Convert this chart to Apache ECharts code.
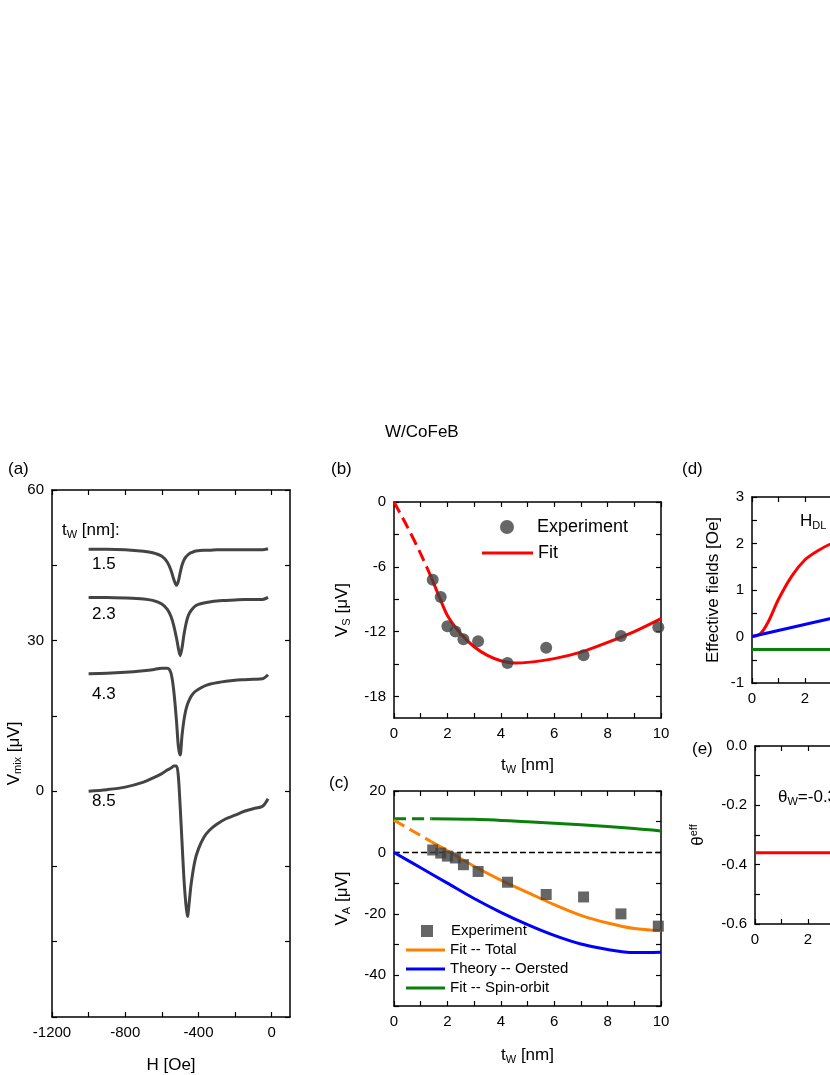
<!DOCTYPE html>
<html>
<head>
<meta charset="utf-8">
<script src="https://cdn.jsdelivr.net/npm/echarts@6/dist/echarts.min.js"></script>
<style>html,body{margin:0;background:#fff;overflow:hidden}#c{width:1100px;height:1075px}</style>
</head>
<body>
<div id="c"></div>
<script>
// (a) spectra
var H = [-1000,-900,-800,-700,-650,-600,-570,-550,-535,-520,-510,-500,-490,-480,-470,-460,-450,-440,-420,-400,-370,-340,-300,-250,-200,-150,-100,-50,-20];
var v15 = [48.2,48.2,48.1,47.8,47.5,46.8,45.6,44,42.2,41,41.8,43.5,45,46,46.6,47,47.3,47.5,47.8,47.9,48,48,48.1,48.1,48.1,48.1,48.1,48.1,48.3];
var v23 = [38.6,38.6,38.5,38.3,38,37.3,36.2,34.8,33,30.5,28.5,27,28.5,31,33,34.5,35.4,36,36.8,37.2,37.5,37.7,37.9,38,38.1,38.2,38.2,38.2,38.6];
var v43 = [23.4,23.5,23.7,24,24.2,24.5,24.5,23.5,20,14,9,7.2,11,14,16,17.3,18.2,18.9,19.8,20.3,20.9,21.3,21.6,21.9,22.1,22.2,22.3,22.4,23.2];
var v85 = [0,0.3,0.8,1.8,2.6,3.5,4.2,4.6,5,5,3,-3,-10,-17,-22,-25,-22,-18.5,-14,-11.5,-9.2,-7.8,-6.6,-5.5,-4.8,-4,-3.5,-3,-1.5];
// (b) symmetric voltage
var expT = [1.45,1.75,2.0,2.3,2.6,3.15,4.25,5.7,7.1,8.5,9.9];
var expVS = [-7.2,-8.8,-11.5,-12,-12.7,-12.9,-14.9,-13.5,-14.2,-12.4,-11.6];
var fitSdashT = [0,0.5,1,1.4];
var fitSdash = [0,-2.3,-4.8,-7];
var fitST = [1.4,1.7,2,2.5,3,3.5,4,4.5,5,6,7,8,9,10];
var fitS = [-7,-8.8,-10.5,-12.2,-13.4,-14.2,-14.7,-14.9,-14.85,-14.5,-13.9,-13,-12,-10.8];
// (c) antisymmetric voltage
var expVA = [0.8,-0.2,-1.2,-1.8,-4,-6.2,-9.7,-13.7,-14.5,-20,-24];
var curT = [0,1,2,3,4,5,6,7,8,9,10];
var totDashT = [0,1.4], totDash = [10.5,3.5];
var totT = [1.4,2,3,4,5,6,7,8,9,10];
var tot = [3.5,0.5,-4.5,-9,-13,-17,-20.5,-23,-24.8,-25.5];
var oer = [0,-5,-10,-15,-19.5,-23.5,-27,-29.8,-31.6,-32.6,-32.5];
var soDashT = [0,1.4], soDash = [11,11];
var soT = [1.4,3,5,7,9,10];
var so = [11,10.8,10,9,7.8,7];
// (d) effective fields
var hdlT = [0,0.3,0.6,1,1.5,2,2.5,3,3.5,4,5,6,8,10];
var hdl = [0,0.05,0.3,0.8,1.3,1.65,1.85,2.0,2.1,2.2,2.3,2.35,2.35,2.3];
var hoe = [0,1.3], hoeT = [0,10];
var hfl = [-0.28,-0.28];
// (e) theta
var theta = [-0.36,-0.36];

function pairs(xs, ys){ return xs.map(function(x,i){return [x, ys[i]];}); }
function range(a,b,s){ var r=[]; for(var v=a; v<=b+1e-9; v+=s) r.push(+v.toFixed(4)); return r; }

var F = 'Liberation Sans, Arial, sans-serif';
var grids=[], xAxes=[], yAxes=[];
function panel(g, xa, ya){
  var i = grids.length;
  grids.push({left:g[0], top:g[1], width:g[2], height:g[3], show:false});
  var line = {show:true, onZero:false, lineStyle:{color:'#000', width:1.5}};
  [['bottom',true],['top',false]].forEach(function(p){
    xAxes.push({type:'value', gridIndex:i, position:p[0], min:xa.min, max:xa.max, axisLine:line, splitLine:{show:false},
      axisTick:{show:true, inside:true, length:5, customValues:xa.ticks, lineStyle:{color:'#000', width:1.2}},
      axisLabel:{show:p[1], customValues:xa.labels, color:'#000', fontSize:15, fontFamily:F, margin:8, formatter:xa.fmt||function(v){return String(v);}},
      name:p[1]?xa.name:'', nameLocation:'middle', nameGap:xa.gap||36, nameTextStyle:{fontFamily:F, color:'#000'}});
  });
  [['left',true],['right',false]].forEach(function(p){
    yAxes.push({type:'value', gridIndex:i, position:p[0], min:ya.min, max:ya.max, axisLine:line, splitLine:{show:false},
      axisTick:{show:true, inside:true, length:5, customValues:ya.ticks, lineStyle:{color:'#000', width:1.2}},
      axisLabel:{show:p[1], customValues:ya.labels, color:'#000', fontSize:15, fontFamily:F, margin:8, formatter:ya.fmt||function(v){return String(v);}},
      name:p[1]?ya.name:'', nameLocation:'middle', nameGap:ya.gap||40, nameRotate:90, nameTextStyle:{fontFamily:F, color:'#000'}});
  });
}
var rich = {a:{fontSize:17, fontFamily:F, color:'#000'}, s:{fontSize:11, fontFamily:F, color:'#000', padding:[8,0,0,0]}, p:{fontSize:11, fontFamily:F, color:'#000', padding:[0,0,10,0]}};

panel([52,490,238,527], {min:-1200,max:100,ticks:range(-1200,0,200),labels:[-1200,-800,-400,0],name:'{a|H [Oe]}',gap:40},
  {min:-45,max:60,ticks:range(-45,60,15),labels:[0,30,60],name:'{a|V}{s|mix}{a| [μV]}',gap:26});
panel([394,502,267,216], {min:0,max:10,ticks:range(0,10,1),labels:range(0,10,2),name:'{a|t}{s|W}{a| [nm]}',gap:38},
  {min:-20,max:0,ticks:range(-18,0,3),labels:[-18,-12,-6,0],name:'{a|V}{s|S}{a| [μV]}',gap:42});
panel([394,791,267,215], {min:0,max:10,ticks:range(0,10,1),labels:range(0,10,2),name:'{a|t}{s|W}{a| [nm]}',gap:40},
  {min:-50,max:20,ticks:range(-50,20,10),labels:[-40,-20,0,20],name:'{a|V}{s|A}{a| [μV]}',gap:42});
panel([752,497,265,186], {min:0,max:10,ticks:range(0,10,1),labels:range(0,10,2),name:''},
  {min:-1,max:3,ticks:range(-1,3,0.5),labels:[-1,0,1,2,3],name:'{a|Effective fields [Oe]}',gap:30});
panel([755,746,265,178], {min:0,max:10,ticks:range(0,10,1),labels:range(0,10,2),name:''},
  {min:-0.6,max:0,ticks:range(-0.6,0,0.1),labels:[-0.6,-0.4,-0.2,0],fmt:function(v){return v.toFixed(1);},name:'{a|θ}{p|eff}',gap:46});
xAxes.forEach(function(a){a.nameTextStyle.rich=rich;});
yAxes.forEach(function(a){a.nameTextStyle.rich=rich;});

function ln(gi, name, d, color, dashed, w){
  return {type:'line', name:name, xAxisIndex:2*gi, yAxisIndex:2*gi, data:d, showSymbol:false, symbol:'none', smooth:0.3,
    lineStyle:{color:color, width:w||3, type:dashed?'dashed':'solid'}, itemStyle:{color:color}, silent:true, z:3};
}
var grey = '#444';
var series = [
  ln(0,'a1',pairs(H,v15),grey), ln(0,'a2',pairs(H,v23),grey), ln(0,'a3',pairs(H,v43),grey), ln(0,'a4',pairs(H,v85),grey),
  ln(1,'fitdash',pairs(fitSdashT,fitSdash),'#f00',true), ln(1,'Fit',pairs(fitST,fitS),'#f00'),
  {type:'scatter', name:'Experiment', xAxisIndex:2, yAxisIndex:2, data:pairs(expT,expVS), symbol:'circle', symbolSize:12, itemStyle:{color:'#404040'}, z:4},
  ln(2,'zero',[[0,0],[10,0]],'#000',true,1.5),
  ln(2,'sod',pairs(soDashT,soDash),'#0a800a',true), ln(2,'Fit -- Spin-orbit',pairs(soT,so),'#0a800a'),
  ln(2,'Theory -- Oersted',pairs(curT,oer),'#0000ff'),
  ln(2,'totd',pairs(totDashT,totDash),'#ff8000',true), ln(2,'Fit -- Total',pairs(totT,tot),'#ff8000'),
  {type:'scatter', name:'Experiment ', xAxisIndex:4, yAxisIndex:4, data:pairs(expT,expVA), symbol:'rect', symbolSize:11, itemStyle:{color:'#404040'}, z:4},
  ln(3,'hdl',pairs(hdlT,hdl),'#f00'), ln(3,'hoe',pairs(hoeT,hoe),'#0000ff'), ln(3,'hfl',pairs(hoeT,hfl),'#0a800a'),
  ln(4,'th',pairs(hoeT,theta),'#f00')
];

function lg(name, x, cy, icon, w, h, fs, pad){
  return {left:x, top:cy-(fs+2)/2, data:[name], icon:icon, itemWidth:w, itemHeight:h, selectedMode:false,
    textStyle:{fontSize:fs, fontFamily:F, color:'#000', padding:[0,0,0,pad||0]}, padding:0};
}
function txt(x,y,t,s){ return {type:'text', left:x, top:y, style:{text:t, font:(s||17)+'px '+F, fill:'#000'}}; }
var chart = echarts.init(document.getElementById('c'));
chart.setOption({
  animation:false,
  grid:grids, xAxis:xAxes, yAxis:yAxes, series:series,
  legend:[
    lg('Experiment',500,528,'circle',14,14,18,18),
    lg('Fit',482,554,'rect',51,3,18,0),
    lg('Experiment ',421,932,'rect',12,12,15,13),
    lg('Fit -- Total',406,951,'rect',39,3,15,0),
    lg('Theory -- Oersted',406,970,'rect',39,3,15,0),
    lg('Fit -- Spin-orbit',406,989,'rect',39,3,15,0)
  ],
  graphic:[
    txt(385,424,'W/CoFeB'), txt(8,461,'(a)'), txt(331,461,'(b)'), txt(329,775,'(c)'), txt(682,461,'(d)'), txt(692,741,'(e)'),
    {type:'text', left:62, top:522, style:{rich:rich, text:'{a|t}{s|W}{a| [nm]:}'}},
    txt(92,556,'1.5'), txt(92,606,'2.3'), txt(92,686,'4.3'), txt(92,793,'8.5'),
    {type:'text', left:800, top:513, style:{rich:rich, text:'{a|H}{s|DL}'}},
    {type:'text', left:778, top:789, style:{rich:rich, text:'{a|θ}{s|W}{a|=-0.36}'}}
  ]
});
</script>
</body>
</html>
